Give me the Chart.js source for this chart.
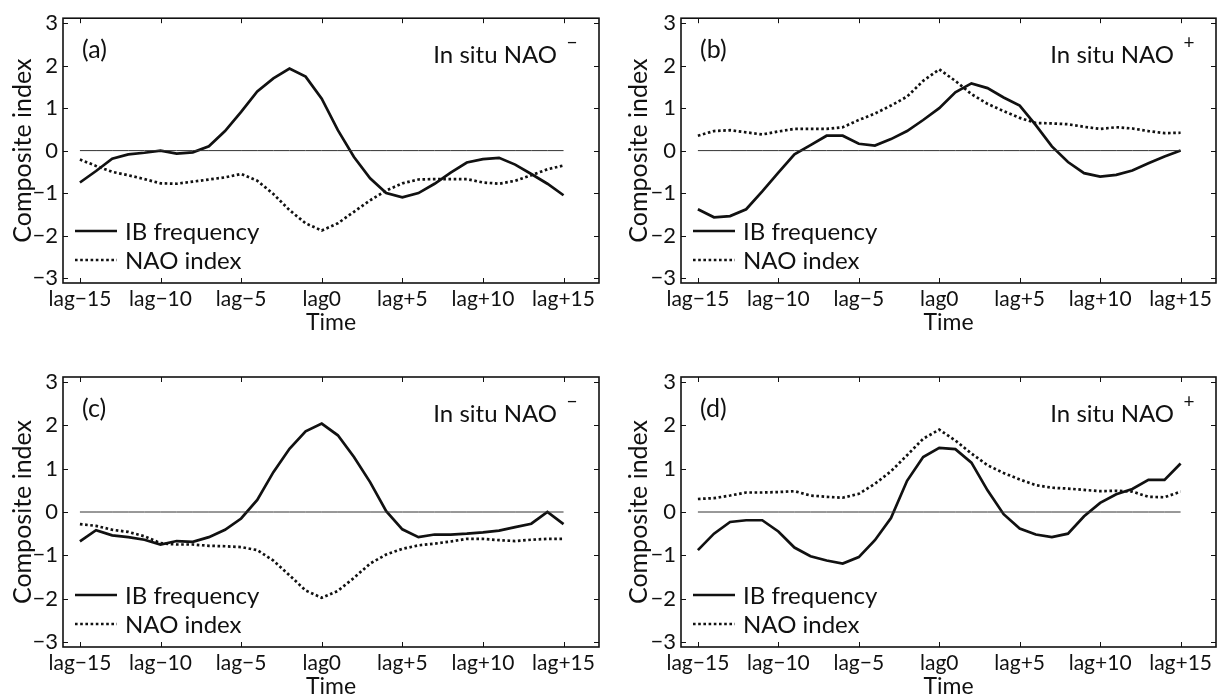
<!DOCTYPE html>
<html>
<head>
<meta charset="utf-8">
<script src="https://cdn.jsdelivr.net/npm/chart.js@4.4.1/dist/chart.umd.min.js"></script>
<style>
  body { margin: 0; background: #fff; width: 1222px; height: 695px; overflow: hidden; position: relative; }
  canvas { position: absolute; }
</style>
</head>
<body>
<canvas id="chartA" width="611" height="347" style="left:0;top:0"></canvas>
<canvas id="chartB" width="606" height="347" style="left:616px;top:0"></canvas>
<canvas id="chartC" width="611" height="348" style="left:0;top:347px"></canvas>
<canvas id="chartD" width="606" height="348" style="left:616px;top:347px"></canvas>
<script>
const lags = [-15, -14, -13, -12, -11, -10, -9, -8, -7, -6, -5, -4, -3, -2, -1, 0,
  1, 2, 3, 4, 5, 6, 7, 8, 9, 10, 11, 12, 13, 14, 15];

// (a) in situ NAO- , top left
const ibA = [-0.75, -0.48, -0.19, -0.09, -0.05, 0.0, -0.07, -0.04, 0.1, 0.46, 0.91, 1.39, 1.7, 1.93, 1.74, 1.22,
  0.48, -0.15, -0.65, -1.0, -1.1, -1.0, -0.78, -0.52, -0.28, -0.2, -0.17, -0.33, -0.55, -0.78, -1.05];
const naoA = [-0.21, -0.36, -0.5, -0.58, -0.67, -0.77, -0.78, -0.73, -0.68, -0.63, -0.55, -0.71, -1.02, -1.4, -1.71, -1.88,
  -1.71, -1.44, -1.17, -0.94, -0.77, -0.68, -0.67, -0.67, -0.67, -0.75, -0.78, -0.71, -0.58, -0.44, -0.35];

// (b) in situ NAO+ , top right
const ibB = [-1.38, -1.57, -1.54, -1.38, -0.96, -0.52, -0.09, 0.13, 0.35, 0.35, 0.16, 0.12, 0.27, 0.46, 0.72, 1.0,
  1.37, 1.58, 1.47, 1.25, 1.06, 0.6, 0.1, -0.27, -0.53, -0.61, -0.57, -0.47, -0.3, -0.14, 0.0];
const naoB = [0.35, 0.46, 0.48, 0.43, 0.38, 0.45, 0.51, 0.51, 0.51, 0.55, 0.72, 0.87, 1.06, 1.27, 1.64, 1.91,
  1.64, 1.33, 1.1, 0.93, 0.77, 0.65, 0.64, 0.62, 0.56, 0.51, 0.55, 0.52, 0.46, 0.41, 0.42];

// (c) in situ NAO- , bottom left
const ibC = [-0.68, -0.42, -0.54, -0.58, -0.64, -0.75, -0.67, -0.69, -0.58, -0.41, -0.15, 0.28, 0.92, 1.46, 1.86, 2.04,
  1.77, 1.27, 0.69, 0.02, -0.4, -0.58, -0.52, -0.52, -0.5, -0.47, -0.43, -0.35, -0.27, 0.0, -0.28];
const naoC = [-0.28, -0.32, -0.41, -0.46, -0.56, -0.72, -0.75, -0.75, -0.78, -0.79, -0.81, -0.88, -1.12, -1.46, -1.81, -1.98,
  -1.82, -1.52, -1.19, -0.98, -0.85, -0.77, -0.73, -0.68, -0.62, -0.62, -0.65, -0.67, -0.64, -0.62, -0.62];

// (d) in situ NAO+ , bottom right
const ibD = [-0.88, -0.5, -0.23, -0.19, -0.19, -0.45, -0.82, -1.02, -1.12, -1.19, -1.04, -0.65, -0.14, 0.72, 1.27, 1.48,
  1.45, 1.14, 0.5, -0.05, -0.38, -0.52, -0.58, -0.5, -0.1, 0.21, 0.41, 0.53, 0.74, 0.74, 1.12];
const naoD = [0.3, 0.32, 0.38, 0.45, 0.45, 0.46, 0.48, 0.38, 0.35, 0.33, 0.42, 0.65, 0.94, 1.31, 1.69, 1.9,
  1.65, 1.35, 1.08, 0.9, 0.75, 0.62, 0.56, 0.54, 0.51, 0.48, 0.49, 0.47, 0.35, 0.34, 0.47];

const zeroLine = lags.map(() => 0);

const xTickValues = [-15, -10, -5, 0, 5, 10, 15];
const xTickLabels = ['lag\u221215', 'lag\u221210', 'lag\u22125', 'lag0', 'lag+5', 'lag+10', 'lag+15'];
const yTickValues = [-3, -2, -1, 0, 1, 2, 3];
const yTickLabels = ['\u22123', '\u22122', '\u22121', '0', '1', '2', '3'];

const FONT = 'Lato, "Noto Sans", sans-serif';

// box, inward ticks, legend and panel texts
const panelDecor = {
  id: 'panelDecor',
  afterDatasetsDraw(chart, args, opts) {
    const { ctx, chartArea: a, scales } = chart;
    ctx.save();
    ctx.strokeStyle = '#111';
    ctx.lineWidth = 1;
    scales.x.ticks.forEach(t => {
      const px = Math.round(scales.x.getPixelForValue(t.value)) + 0.5;
      ctx.beginPath();
      ctx.moveTo(px, a.bottom); ctx.lineTo(px, a.bottom - 5);
      ctx.moveTo(px, a.top); ctx.lineTo(px, a.top + 5);
      ctx.stroke();
    });
    scales.y.ticks.forEach(t => {
      const py = Math.round(scales.y.getPixelForValue(t.value)) + 0.5;
      ctx.beginPath();
      ctx.moveTo(a.left, py); ctx.lineTo(a.left + 5, py);
      ctx.moveTo(a.right, py); ctx.lineTo(a.right - 5, py);
      ctx.stroke();
    });
    ctx.lineWidth = 1.6;
    ctx.strokeRect(a.left, a.top, a.right - a.left, a.bottom - a.top);

    // legend, lower left
    ctx.font = '24px ' + FONT;
    ctx.textBaseline = 'middle';
    ctx.textAlign = 'left';
    ctx.fillStyle = '#111';
    const items = chart.data.datasets.filter(d => d.label);
    items.forEach((d, i) => {
      const y = a.bottom - 52 + i * 29;
      ctx.strokeStyle = d.borderColor;
      ctx.lineWidth = d.borderWidth;
      ctx.setLineDash(d.borderDash || []);
      ctx.beginPath();
      ctx.moveTo(a.left + 12, y); ctx.lineTo(a.left + 54, y);
      ctx.stroke();
      ctx.setLineDash([]);
      ctx.fillText(d.label, a.left + 62, y + 1);
    });

    // panel letter and title
    ctx.font = '25px ' + FONT;
    ctx.fillText(opts.letter, a.left + 19, a.top + 32);
    ctx.font = '24px ' + FONT;
    ctx.textAlign = 'right';
    ctx.fillText('In situ NAO', a.right - 42, a.top + 37);
    ctx.font = '19px ' + FONT;
    ctx.textAlign = 'center';
    ctx.fillText(opts.sign, a.right - 27, a.top + 25);
    ctx.restore();
  }
};

function makePanel(id, ib, nao, letter, sign, pad) {
  const ctx = document.getElementById(id).getContext('2d');
  return new Chart(ctx, {
    type: 'line',
    data: {
      labels: lags,
      datasets: [
        { data: zeroLine, borderColor: '#333', borderWidth: 1, pointRadius: 0 },
        { label: 'IB frequency', data: ib, borderColor: '#111', borderWidth: 2.7, pointRadius: 0, tension: 0 },
        { label: 'NAO index', data: nao, borderColor: '#111', borderWidth: 2.7, borderDash: [2.6, 2.6], pointRadius: 0, tension: 0 }
      ].map(ds => ({ ...ds, data: ds.data.map((v, i) => ({ x: lags[i], y: v })) }))
    },
    options: {
      responsive: false,
      animation: false,
      devicePixelRatio: 1,
      layout: { padding: { left: 0, top: pad.top, right: pad.right, bottom: 0 } },
      plugins: {
        legend: { display: false },
        tooltip: { enabled: false },
        panelDecor: { letter: letter, sign: sign }
      },
      scales: {
        x: {
          type: 'linear',
          min: -16.05,
          max: 17.2,
          afterBuildTicks: s => { s.ticks = xTickValues.map(v => ({ value: v })); },
          afterFit: s => { s.height = pad.xh; },
          grid: { display: false, drawTicks: false },
          border: { display: false },
          ticks: {
            color: '#111',
            padding: 4,
            maxRotation: 0,
            autoSkip: false,
            font: { family: FONT, size: 21 },
            callback: v => xTickLabels[xTickValues.indexOf(v)]
          },
          title: {
            display: true,
            text: 'Time',
            color: '#111',
            font: { family: FONT, size: 23 },
            padding: { top: 0, bottom: pad.tb }
          }
        },
        y: {
          min: -3.115,
          max: 3.115,
          afterBuildTicks: s => { s.ticks = yTickValues.map(v => ({ value: v })); },
          afterFit: s => { s.width = pad.yw; },
          grid: { display: false, drawTicks: false },
          border: { display: false },
          ticks: {
            color: '#111',
            padding: 5,
            font: { family: FONT, size: 22 },
            callback: v => yTickLabels[yTickValues.indexOf(v)]
          },
          title: {
            display: true,
            text: 'Composite index',
            color: '#111',
            font: { family: FONT, size: 25 },
            padding: { top: 8, bottom: 0 }
          }
        }
      }
    },
    plugins: [panelDecor]
  });
}

makePanel('chartA', ibA, naoA, '(a)', '\u2212', { top: 13, right: 12, xh: 64, yw: 63, tb: 11 });
makePanel('chartB', ibB, naoB, '(b)', '+', { top: 13, right: 6, xh: 64, yw: 65, tb: 11 });
makePanel('chartC', ibC, naoC, '(c)', '\u2212', { top: 30, right: 12, xh: 48, yw: 63, tb: -5 });
makePanel('chartD', ibD, naoD, '(d)', '+', { top: 30, right: 6, xh: 48, yw: 65, tb: -5 });
</script>
</body>
</html>
